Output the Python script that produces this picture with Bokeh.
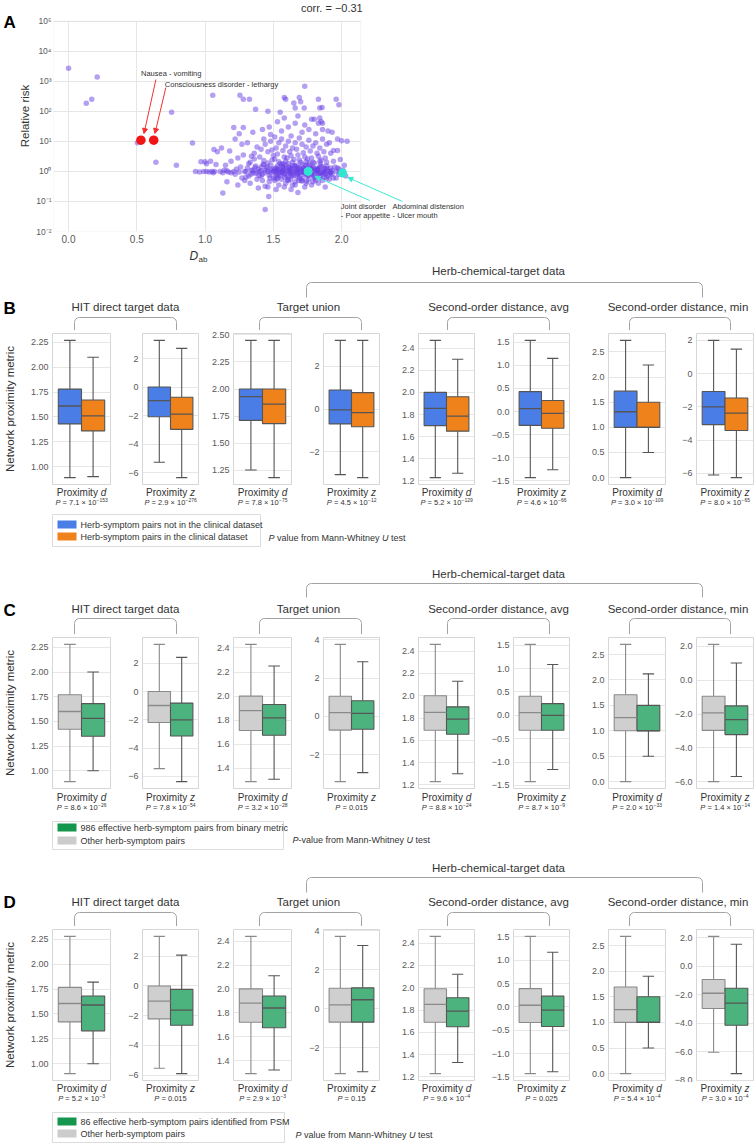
import math
from bokeh.plotting import figure
from bokeh.models import Range1d, FixedTicker, Label, Arrow, NormalHead, ColumnDataSource, BoxAnnotation
from bokeh.layouts import column, row
from bokeh.transform import dodge
from bokeh.embed import file_html
from bokeh.resources import INLINE
from bokeh.core.properties import value

FONT = "Liberation Sans"
TXT = "#333333"
TCK = "#595959"
PAGE_W = 756

# ===================== Panel A data =====================
corr_text = "corr. = −0.31"
A_xtick_labels = ["0.0", "0.5", "1.0", "1.5", "2.0"]
A_ytick_exps = [-2, -1, 0, 1, 2, 3, 4, 5]
A_ytick_labels = ["10⁻²", "10⁻¹", "10⁰", "10¹", "10²", "10³", "10⁴", "10⁵"]

A_D = [
    # isolated pairs
    0.0, 0.13, 0.17, 0.21, 0.505, 0.64, 0.755, 0.79, 0.908, 1.056, 1.0, 1.01, 1.065, 1.13, 1.21, 1.28,
    1.255, 1.28, 1.325, 1.37, 1.46, 1.466, 1.44, 1.55, 1.58, 1.59, 1.65, 1.66, 1.69, 1.70, 1.73, 1.726,
    1.83, 1.96, 1.98, 2.0, 2.04, 1.84, 1.85, 1.857, 1.80, 1.86, 1.90,
    # 0.9 - 1.1
    0.93, 0.96, 0.99, 0.97, 1.01, 1.03, 1.05, 1.07, 1.08, 1.04, 1.09, 1.06,
    # 1.1 - 1.2
    1.11, 1.13, 1.14, 1.16, 1.17, 1.18, 1.15, 1.19, 1.12, 1.16, 1.19,
    # 1.2 - 1.3
    1.21, 1.22, 1.23, 1.24, 1.25, 1.26, 1.27, 1.28, 1.29, 1.22, 1.27, 1.24, 1.29, 1.25,
    # 1.3 - 1.4
    1.30, 1.31, 1.32, 1.33, 1.34, 1.35, 1.36, 1.37, 1.38, 1.39, 1.31, 1.33, 1.35, 1.36, 1.38, 1.39, 1.32, 1.37, 1.34, 1.30,
    # 1.4 - 1.45
    1.40, 1.41, 1.42, 1.43, 1.44, 1.41, 1.42, 1.43, 1.44, 1.40, 1.41, 1.43, 1.44, 1.42, 1.45,
    # 1.45 - 1.5
    1.46, 1.47, 1.48, 1.49, 1.46, 1.47, 1.48, 1.49, 1.46, 1.48, 1.47, 1.49, 1.46, 1.50, 1.50, 1.48,
    # 1.5 - 1.55
    1.51, 1.52, 1.53, 1.54, 1.51, 1.52, 1.53, 1.54, 1.51, 1.52, 1.53, 1.54, 1.55, 1.51, 1.53, 1.52, 1.54, 1.55, 1.51, 1.53,
    # 1.55 - 1.6
    1.56, 1.57, 1.58, 1.59, 1.56, 1.57, 1.58, 1.59, 1.56, 1.57, 1.58, 1.59, 1.60, 1.56, 1.58, 1.59, 1.57, 1.60, 1.58, 1.56,
    # 1.6 - 1.65
    1.61, 1.62, 1.63, 1.64, 1.61, 1.62, 1.63, 1.64, 1.61, 1.62, 1.63, 1.64, 1.65, 1.61, 1.63, 1.64, 1.62, 1.65, 1.63, 1.61,
    # 1.65 - 1.7
    1.66, 1.67, 1.68, 1.69, 1.66, 1.67, 1.68, 1.69, 1.66, 1.67, 1.68, 1.69, 1.70, 1.66, 1.68, 1.69, 1.67, 1.70, 1.68, 1.66,
    # 1.7 - 1.75
    1.71, 1.72, 1.73, 1.74, 1.71, 1.72, 1.73, 1.74, 1.71, 1.72, 1.73, 1.74, 1.75, 1.71, 1.73, 1.74, 1.72, 1.75, 1.73, 1.71,
    # 1.75 - 1.8
    1.76, 1.77, 1.78, 1.79, 1.76, 1.77, 1.78, 1.79, 1.76, 1.77, 1.78, 1.79, 1.80, 1.76, 1.78, 1.79, 1.77, 1.80, 1.78, 1.76,
    # 1.8 - 1.85
    1.81, 1.82, 1.83, 1.84, 1.81, 1.82, 1.83, 1.84, 1.81, 1.82, 1.83, 1.84, 1.85, 1.81, 1.83, 1.84, 1.82, 1.85, 1.83, 1.84,
    # 1.85 - 1.9
    1.86, 1.87, 1.88, 1.89, 1.86, 1.87, 1.88, 1.89, 1.86, 1.87, 1.88, 1.89, 1.90, 1.86, 1.88, 1.89,
    # 1.9 - 1.95
    1.91, 1.92, 1.93, 1.94, 1.91, 1.92, 1.93, 1.94, 1.91, 1.92, 1.93, 1.95, 1.94,
    # 1.95 - 2.05
    1.96, 1.97, 1.98, 1.99, 1.96, 1.97, 1.98, 1.99, 2.01, 2.02, 1.97, 2.03,
    # dense band near RR = 1
    1.50, 1.52, 1.55, 1.57, 1.60, 1.62, 1.65, 1.67, 1.70, 1.72, 1.75, 1.77, 1.80, 1.82, 1.85, 1.87,
    1.53, 1.58, 1.63, 1.68, 1.73, 1.78, 1.83, 1.88, 1.48, 1.44, 1.41, 1.38, 1.35, 1.54, 1.59, 1.64,
    1.69, 1.74, 1.79, 1.84, 1.89, 1.92, 1.61, 1.66,
    1.515, 1.545, 1.565, 1.585, 1.615, 1.635, 1.655, 1.675, 1.695, 1.715, 1.735, 1.755, 1.775, 1.795,
    1.815, 1.835, 1.855, 1.875, 1.895, 1.915, 1.455, 1.475, 1.425, 1.395, 1.365, 1.335, 1.525, 1.605,
    1.685, 1.765, 1.845, 1.705, 1.625, 1.745, 1.575, 1.805,
]
A_RR = [
    2700, 185, 250, 1380, 9, 2.0, 93, 1.6, 8.8, 340, 2.1, 1.8, 5.4, 0.19, 29, 29,
    340, 250, 250, 117, 100, 0.145, 0.054, 94, 290, 250, 190, 130, 290, 210, 690, 130,
    250, 250, 165, 10.5, 10, 60, 45, 134, 55, 40, 22,
    1.0, 0.95, 1.0, 2.1, 1.0, 0.95, 1.0, 1.0, 1.7, 2.2, 4.5, 0.9,
    1.0, 0.9, 1.1, 1.05, 0.95, 4.8, 1.6, 2.2, 6.0, 0.45, 0.9,
    1.0, 0.8, 1.2, 2.8, 0.95, 1.4, 0.6, 3.5, 1.0, 12, 8, 0.35, 0.5, 18,
    1.0, 1.3, 0.7, 2.0, 1.1, 0.9, 4.0, 1.5, 0.55, 1.2, 9, 0.4, 20, 2.6, 6.5, 0.28, 1.8, 0.85, 3.2, 0.65,
    1.0, 1.4, 0.8, 2.3, 1.1, 5.5, 0.5, 12, 0.32, 3.0, 0.7, 1.7, 8, 25, 1.3,
    1.0, 0.75, 1.6, 2.4, 4.5, 0.45, 10, 1.2, 0.3, 0.9, 30, 5.2, 1.9, 0.6, 3.4, 17,
    1.0, 1.3, 0.8, 2.1, 0.5, 6, 1.5, 0.35, 14, 0.9, 3.8, 1.1, 0.7, 2.6, 45, 0.25, 9, 1.8, 1.2, 0.6,
    1.0, 1.4, 0.8, 2.2, 0.55, 5, 1.2, 0.4, 12, 0.9, 3.0, 1.6, 0.7, 22, 0.3, 7, 1.1, 2.8, 60, 1.7,
    1.0, 1.3, 0.85, 2.0, 0.5, 4.5, 1.15, 0.35, 10, 0.95, 3.3, 1.5, 0.7, 30, 0.25, 6, 1.1, 2.5, 15, 1.8,
    1.0, 1.2, 0.8, 2.4, 0.45, 5.5, 1.3, 0.6, 9, 0.9, 3.5, 1.1, 0.75, 40, 0.2, 13, 1.6, 2.0, 70, 0.35,
    1.0, 1.3, 0.85, 2.1, 0.5, 4.2, 1.1, 0.4, 8, 0.95, 3.0, 1.5, 0.7, 20, 0.3, 6.5, 1.2, 2.6, 35, 1.7,
    1.0, 1.2, 0.8, 2.0, 0.55, 4.8, 1.15, 0.45, 11, 0.9, 2.8, 1.4, 0.7, 25, 0.35, 7, 1.1, 1.9, 55, 1.6,
    1.0, 1.25, 0.8, 2.2, 0.5, 4.0, 1.1, 0.6, 9, 0.95, 3.2, 1.4, 0.75, 18, 0.4, 6, 1.15, 2.4, 40, 130,
    1.0, 1.3, 0.8, 2.0, 0.5, 4.5, 1.2, 0.6, 12, 0.9, 2.8, 1.5, 0.7, 25, 0.3, 8,
    1.0, 1.3, 0.8, 2.2, 0.55, 4.0, 1.1, 0.6, 9, 0.9, 20, 1.4, 5,
    1.0, 1.3, 0.8, 2.5, 0.6, 5, 1.2, 0.9, 1.1, 1.6, 12, 0.7,
    1.0, 1.05, 0.95, 1.0, 1.05, 0.9, 1.0, 1.08, 0.92, 1.0, 1.05, 0.95, 1.0, 1.1, 0.9, 1.0,
    1.2, 0.85, 1.25, 0.88, 1.2, 0.82, 1.22, 0.87, 1.1, 0.9, 1.05, 0.95, 1.1, 0.75, 1.3, 0.78,
    1.32, 0.8, 1.28, 0.83, 1.1, 0.95, 0.65, 1.45,
    0.7, 1.15, 1.5, 0.62, 1.4, 0.72, 1.55, 0.68, 1.18, 0.58, 1.6, 0.74, 1.35, 0.66,
    1.12, 0.7, 1.48, 0.64, 1.25, 0.8, 1.4, 0.6, 1.7, 0.72, 1.35, 0.8, 0.56, 0.52,
    0.5, 1.9, 1.75, 0.48, 0.54, 0.47, 1.85, 0.58,
]
assert len(A_D) == len(A_RR), (len(A_D), len(A_RR))

A_red_names = ["Nausea - vomiting", "Consciousness disorder - lethargy"]
A_red_D = [0.53, 0.624]
A_red_RR = [11.0, 11.0]
A_cyan_names = [["Joint disorder", "- Poor appetite"], ["Abdominal distension", "- Ulcer mouth"]]
A_cyan_D = [1.755, 2.007]
A_cyan_RR = [1.0, 0.88]

# ===================== Panels B-D data =====================
group_title = "Herb-chemical-target data"
subtitles = ["HIT direct target data", "Target union", "Second-order distance, avg", "Second-order distance, min"]
metric_letters = ["d", "z", "d", "z", "d", "z", "d", "z"]

# each box: [low whisker, Q1, median, Q3, high whisker]
B_not_clinical = [
    [0.89, 1.43, 1.61, 1.78, 2.27], [-5.27, -2.07, -0.94, 0.02, 3.29],
    [1.25, 1.71, 1.93, 2.00, 2.45], [-3.08, -0.70, -0.04, 0.89, 3.22],
    [1.23, 1.70, 1.855, 2.00, 2.47], [-1.43, -0.30, 0.065, 0.43, 1.54],
    [0.0, 1.0, 1.31, 1.72, 2.73], [-6.1, -3.07, -2.0, -1.08, 2.0],
]
B_in_clinical = [
    [0.90, 1.36, 1.51, 1.67, 2.10], [-6.35, -2.96, -1.89, -0.71, 2.73],
    [1.18, 1.68, 1.86, 2.00, 2.45], [-3.22, -0.83, -0.17, 0.77, 3.22],
    [1.27, 1.65, 1.785, 1.96, 2.30], [-1.26, -0.36, -0.04, 0.24, 1.15],
    [0.5, 1.0, 1.0, 1.5, 2.24], [-6.26, -3.42, -2.38, -1.47, 1.47],
]
C_other = [
    [0.89, 1.42, 1.60, 1.77, 2.28], [-5.46, -2.19, -0.99, 0.0, 3.34],
    [1.29, 1.715, 1.88, 2.0, 2.43], [-3.42, -0.72, 0.19, 1.05, 3.77],
    [1.23, 1.69, 1.85, 2.0, 2.46], [-1.42, -0.32, 0.057, 0.41, 1.52],
    [0.0, 1.0, 1.26, 1.71, 2.70], [-6.0, -2.97, -1.93, -0.95, 2.12],
]
C_binary = [
    [1.00, 1.35, 1.53, 1.68, 2.00], [-6.38, -3.15, -2.0, -0.82, 2.42],
    [1.31, 1.675, 1.82, 1.93, 2.25], [-2.95, -0.68, 0.16, 0.82, 2.86],
    [1.30, 1.655, 1.79, 1.90, 2.13], [-1.16, -0.32, 0.0, 0.25, 1.09],
    [0.5, 1.0, 1.0, 1.5, 2.12], [-5.7, -3.22, -2.33, -1.52, 1.02],
]
D_other = [
    [0.90, 1.42, 1.605, 1.767, 2.28], [-5.53, -2.21, -1.02, 0.0, 3.33],
    [1.29, 1.72, 1.88, 2.0, 2.44], [-3.32, -0.68, 0.21, 1.06, 3.72],
    [1.23, 1.69, 1.85, 1.99, 2.46], [-1.43, -0.335, 0.035, 0.39, 1.51],
    [0.0, 1.0, 1.25, 1.69, 2.68], [-6.05, -2.97, -1.9, -0.93, 2.1],
]
D_psm = [
    [1.00, 1.33, 1.59, 1.68, 1.82], [-5.89, -2.64, -1.63, -0.23, 2.07],
    [1.32, 1.675, 1.84, 1.94, 2.11], [-3.22, -0.68, 0.47, 1.08, 3.25],
    [1.33, 1.65, 1.79, 1.91, 2.12], [-1.39, -0.42, -0.07, 0.23, 1.17],
    [0.5, 1.0, 1.0, 1.5, 1.90], [-7.55, -4.15, -2.6, -1.55, 1.55],
]

B_p_mant = ["7.1", "2.9", "7.8", "4.5", "5.2", "4.6", "3.0", "8.0"]
B_p_exp = ["−153", "−276", "−75", "−12", "−129", "−66", "−109", "−65"]
C_p_mant = ["8.6", "7.8", "3.2", "0.015", "8.8", "8.7", "2.0", "1.4"]
C_p_exp = ["−26", "−54", "−28", "", "−24", "−9", "−33", "−14"]
D_p_mant = ["5.2", "0.015", "2.9", "0.15", "9.6", "0.025", "5.4", "3.0"]
D_p_exp = ["−3", "", "−3", "", "−4", "", "−4", "−4"]

T_d225 = ["1.00", "1.25", "1.50", "1.75", "2.00", "2.25"]
T_z6 = ["−6", "−4", "−2", "0", "2"]
T_d250 = ["1.25", "1.50", "1.75", "2.00", "2.25", "2.50"]
T_z2 = ["−2", "0", "2"]
T_z4 = ["−2", "0", "2", "4"]
T_d12 = ["1.2", "1.4", "1.6", "1.8", "2.0", "2.2", "2.4"]
T_d14 = ["1.4", "1.6", "1.8", "2.0", "2.2", "2.4"]
T_z15 = ["−1.5", "−1.0", "−0.5", "0.0", "0.5", "1.0", "1.5"]
T_d0 = ["0.0", "0.5", "1.0", "1.5", "2.0", "2.5"]
T_z6f = ["−6.0", "−4.0", "−2.0", "0.0", "2.0"]
T_z8f = ["−8.0", "−6.0", "−4.0", "−2.0", "0.0", "2.0"]
B_ticks = [T_d225, T_z6, T_d250, T_z2, T_d12, T_z15, T_d0, T_z6]
C_ticks = [T_d225, T_z6, T_d14, T_z4, T_d12, T_z15, T_d0, T_z6f]
D_ticks = [T_d225, T_z6, T_d14, T_z4, T_d12, T_z15, T_d0, T_z8f]

B_legend = ["Herb-symptom pairs not in the clinical dataset", "Herb-symptom pairs in the clinical dataset"]
C_legend = ["986 effective herb-symptom pairs from binary metric", "Other herb-symptom pairs"]
D_legend = ["86 effective herb-symptom pairs identified from PSM", "Other herb-symptom pairs"]

# ===================== styling / layout constants (page pixels) =====================
BLUE, ORANGE = "#4b7de6", "#f0821c"
GRAY, GREEN = "#cfcfcf", "#4cb37f"
LEG_GREEN, LEG_GRAY = "#15964d", "#cccccc"
EDGE_DARK, EDGE_LIGHT = "#555555", "#8a8a8a"
BRACKET = "#a3a3a3"

FRAMES = [(52, 58), (142, 56), (233, 58), (323, 56), (418, 56), (513, 56), (608, 57), (696, 57)]
SUB_CENTERS = [125, 308, 498, 677.5]
SMALL_BR = [(74, 176), (259, 361), (447, 549), (629, 730)]
BIG_BR = (306, 702)
HEAD_X = 498

CW = {" ": .278, "-": .333, ".": .278, "=": .584, "×": .584, "−": .584, ",": .278}
for ch in "0123456789":
    CW[ch] = .556
CW.update(dict(a=.556, b=.556, c=.5, d=.556, e=.556, f=.278, g=.556, h=.556, i=.222, j=.222, k=.5, l=.222,
               m=.833, n=.556, o=.556, p=.556, q=.556, r=.333, s=.5, t=.278, u=.556, v=.5, w=.722, x=.5,
               y=.5, z=.5, A=.667, B=.667, C=.722, D=.722, E=.667, H=.722, I=.278, M=.833, O=.778,
               P=.667, S=.667, U=.722, W=.944))


def tw(s, size):
    return sum(CW.get(ch, .556) for ch in s) * size


class TextBag:
    def __init__(self):
        self.d = {k: [] for k in ["x", "y", "text", "size", "style", "color", "align"]}

    def add(self, x, y, t, size=10.0, style="normal", color=TXT, align="left"):
        for k, v in zip(["x", "y", "text", "size", "style", "color", "align"],
                        [x, y, t, "%.2fpx" % size, style, color, align]):
            self.d[k].append(v)

    def draw(self, p):
        p.text(x="x", y="y", text="text", text_font_size="size", text_font_style="style",
               text_color="color", text_align="align", text_baseline="middle",
               text_font=value(FONT), source=ColumnDataSource(self.d))


def canvas(h, w=PAGE_W):
    c = figure(width=w, height=h, x_range=Range1d(0, w), y_range=Range1d(h, 0),
               x_axis_location=None, y_axis_location=None, min_border=0,
               output_backend="svg", toolbar_location=None)
    c.xgrid.visible = False
    c.ygrid.visible = False
    c.outline_line_color = None
    return c


def bracket(x0, x1, yt, yb, r=5):
    xs, ys = [x0, x0], [yb, yt + r]
    for k in range(1, 7):
        a = math.pi + k * (math.pi / 2) / 6
        xs.append(x0 + r + r * math.cos(a)); ys.append(yt + r + r * math.sin(a))
    for k in range(0, 7):
        a = 1.5 * math.pi + k * (math.pi / 2) / 6
        xs.append(x1 - r + r * math.cos(a)); ys.append(yt + r + r * math.sin(a))
    xs.append(x1); ys.append(yb)
    return xs, ys


def header(h, letter, head_y, big_top, big_bot, sub_y, letter_y, sb_top, sb_bot, extra=None):
    c = canvas(h)
    xs, ys = [], []
    for (a, b) in SMALL_BR:
        bx, by = bracket(a, b, sb_top, sb_bot)
        xs.append(bx); ys.append(by)
    bx, by = bracket(BIG_BR[0], BIG_BR[1], big_top, big_bot)
    xs.append(bx); ys.append(by)
    c.multi_line(xs, ys, line_color=BRACKET, line_width=1)
    bag = TextBag()
    bag.add(HEAD_X, head_y, group_title, 11.5, align="center")
    for cx, t in zip(SUB_CENTERS, subtitles):
        bag.add(cx, sub_y, t, 11.5, align="center")
    bag.add(3, letter_y, letter, 17, "bold", "#000000")
    if extra:
        for item in extra:
            bag.add(*item)
    bag.draw(c)
    return c


def box_row(left_stats, right_stats, ticks, fills, edges, first_label="Network proximity metric"):
    figs = []
    prev = 0
    for i, (fl, fw) in enumerate(FRAMES):
        lb = fl - prev
        boxes = [left_stats[i], right_stats[i]]
        vals = [v for bx in boxes for v in bx]
        lo, hi = min(vals), max(vals)
        pad = 0.05 * (hi - lo)
        p = figure(width=lb + fw + 1, height=156, x_range=Range1d(-0.5, 0.5),
                   y_range=Range1d(lo - pad, hi + pad), x_axis_location=None,
                   min_border_left=lb, min_border_right=1, min_border_top=3, min_border_bottom=2,
                   output_backend="svg", toolbar_location=None)
        tv = [float(s.replace("−", "-")) for s in ticks[i]]
        tk = FixedTicker(ticks=tv)
        ax = p.yaxis[0]
        ax.ticker = tk
        ax.major_label_overrides = dict(zip(tv, ticks[i]))
        ax.major_label_text_font = FONT
        ax.major_label_text_font_size = "9px"
        ax.major_label_text_color = TCK
        ax.major_label_standoff = 4
        ax.major_tick_line_color = None
        ax.minor_tick_line_color = None
        ax.major_tick_out = 0
        ax.minor_tick_out = 0
        ax.axis_line_color = None
        if i == 0:
            ax.axis_label = first_label
            ax.axis_label_text_font = FONT
            ax.axis_label_text_font_size = "11.5px"
            ax.axis_label_text_font_style = "normal"
            ax.axis_label_text_color = TXT
            ax.axis_label_standoff = 12
        p.xgrid.visible = False
        p.ygrid.ticker = tk
        p.ygrid.grid_line_color = "#e6e6e6"
        p.outline_line_color = "#d6d6d6"
        src = ColumnDataSource(dict(
            x=[-0.2, 0.2], low=[b[0] for b in boxes], q1=[b[1] for b in boxes], med=[b[2] for b in boxes],
            q3=[b[3] for b in boxes], high=[b[4] for b in boxes], fill=fills, edge=edges))
        p.segment(x0="x", y0="low", x1="x", y1="q1", line_color="edge", line_width=1.1, source=src)
        p.segment(x0="x", y0="q3", x1="x", y1="high", line_color="edge", line_width=1.1, source=src)
        p.vbar(x="x", width=0.4, bottom="q1", top="q3", fill_color="fill", line_color="edge",
               line_width=1.1, source=src)
        p.segment(x0=dodge("x", -0.1), y0="low", x1=dodge("x", 0.1), y1="low", line_color="edge",
                  line_width=1.1, source=src)
        p.segment(x0=dodge("x", -0.1), y0="high", x1=dodge("x", 0.1), y1="high", line_color="edge",
                  line_width=1.1, source=src)
        p.segment(x0=dodge("x", -0.2), y0="med", x1=dodge("x", 0.2), y1="med", line_color="edge",
                  line_width=1.3, source=src)
        figs.append(column(p))
        prev = fl + fw + 1
    return row(*figs)


def footer(h, pm, pe, prox_y, p_y, box_x, box_y, rows_y, leg_labels, leg_colors, note_parts, note_x, note_y):
    c = canvas(h)
    c.quad(left=[box_x[0]], right=[box_x[1]], top=[box_y[0]], bottom=[box_y[1]],
           fill_color="white", line_color="#dcdcdc", line_width=1)
    c.quad(left=[57] * 2, right=[76] * 2, top=[y - 4 for y in rows_y], bottom=[y + 4 for y in rows_y],
           fill_color=leg_colors, line_color=None)
    bag = TextBag()
    for i, (fl, fw) in enumerate(FRAMES):
        cx = fl + fw / 2.0
        w1 = tw("Proximity ", 10)
        w2 = tw(metric_letters[i], 10)
        x0 = cx - (w1 + w2) / 2
        bag.add(x0, prox_y, "Proximity", 10)
        bag.add(x0 + w1, prox_y, metric_letters[i], 10, "italic")
        fs, ss = 7.5, 5.0
        rest = "= " + pm[i] + (" × 10" if pe[i] else "")
        wP = tw("P ", fs)
        wr = tw(rest, fs)
        we = tw(pe[i], ss) if pe[i] else 0
        x0 = cx - (wP + wr + we) / 2
        bag.add(x0, p_y, "P", fs, "italic")
        bag.add(x0 + wP, p_y, rest, fs)
        if pe[i]:
            bag.add(x0 + wP + wr + 0.3, p_y - 2.5, pe[i], ss)
    for y, t in zip(rows_y, leg_labels):
        bag.add(80, y, t, 9)
    x = note_x
    for t, style, gap in note_parts:
        x += tw(" ", 9) if gap else 0
        bag.add(x, note_y, t, 9, style)
        x += tw(t, 9)
    bag.draw(c)
    return c


# ===================== Panel A =====================
A_L, A_R, A_T, A_B = 49, 358, 20.7, 231      # page px of the plotted box
A_H = 248
A_LETTER_W = 16
XR = (-0.11, 2.14)
DEC = (A_B - A_T) / 7.0
x_end = XR[0] + (PAGE_W - A_L) / (A_R - A_L) * (XR[1] - XR[0])
y_top = 10 ** (5 + A_T / DEC)
pa = figure(width=PAGE_W - A_LETTER_W, height=A_H, x_range=Range1d(XR[0], x_end),
            y_range=Range1d(1e-2, y_top), y_axis_type="log",
            min_border_left=A_L - A_LETTER_W, min_border_right=0, min_border_top=0,
            min_border_bottom=A_H - A_B, output_backend="svg", toolbar_location=None)


def apx(px):
    return XR[0] + (px - A_L) / (A_R - A_L) * (XR[1] - XR[0])


def apy(py):
    return 10 ** (5 - (py - A_T) / DEC)


xt = [float(s) for s in A_xtick_labels]
pa.xaxis.ticker = FixedTicker(ticks=xt)
pa.xaxis.major_label_overrides = dict(zip(xt, A_xtick_labels))
yt = [10.0 ** e for e in A_ytick_exps]
pa.yaxis.ticker = FixedTicker(ticks=yt)
pa.yaxis.major_label_overrides = dict(zip(yt, A_ytick_labels))
for axis in (pa.xaxis[0], pa.yaxis[0]):
    axis.major_label_text_font = FONT
    axis.major_label_text_color = TCK
    axis.major_tick_line_color = None
    axis.minor_tick_line_color = None
    axis.major_tick_out = 0
    axis.minor_tick_out = 0
    axis.major_tick_in = 0
    axis.minor_tick_in = 0
    axis.axis_line_color = None
    axis.major_label_standoff = 3
pa.xaxis.major_label_text_font_size = "10px"
pa.yaxis.major_label_text_font_size = "8.5px"
pa.yaxis.major_label_standoff = 2
pa.yaxis.bounds = (1e-2, 1e5)
pa.yaxis.axis_label = "Relative risk"
pa.yaxis.axis_label_text_font = FONT
pa.yaxis.axis_label_text_font_size = "11.5px"
pa.yaxis.axis_label_text_font_style = "normal"
pa.yaxis.axis_label_text_color = TXT
pa.yaxis.axis_label_standoff = 2
pa.grid.grid_line_color = "#e6e6e6"
pa.xgrid.cross_bounds = (1e-2, 1e5)
pa.ygrid.cross_bounds = XR
pa.outline_line_color = None
pa.add_layout(BoxAnnotation(left=XR[0], right=XR[1], bottom=1e-2, top=1e5, fill_alpha=0,
                            line_color="#d6d6d6", line_width=1))

pa.scatter(A_D, A_RR, size=5.5, fill_color="#6a3fe6", fill_alpha=0.5, line_color=None)
pa.scatter(A_red_D, A_red_RR, size=9.5, fill_color="#f01414", line_color=None)
pa.scatter(A_cyan_D, A_cyan_RR, size=9, fill_color="#2fe6cf", line_color=None)

RED, CYAN = "#f53030", "#3fe8d3"
for (x0, y0, x1, y1) in [(152, 79, 140, 133), (162, 87, 151, 133)]:
    pa.add_layout(Arrow(end=NormalHead(size=5, fill_color=RED, line_color=RED),
                        x_start=apx(x0), y_start=apy(y0), x_end=apx(x1), y_end=apy(y1),
                        line_color=RED, line_width=1))
for (x0, y0, x1, y1) in [(367, 200, 312, 176), (400, 201, 345, 177)]:
    pa.add_layout(Arrow(end=NormalHead(size=5, fill_color=CYAN, line_color=CYAN),
                        x_start=apx(x0), y_start=apy(y0), x_end=apx(x1), y_end=apy(y1),
                        line_color=CYAN, line_width=1))


def alabel(px, py, t, size, style="normal", color=TXT, align="left"):
    pa.add_layout(Label(x=apx(px), y=apy(py), text=t, text_font=FONT, text_font_size="%.1fpx" % size,
                        text_font_style=style, text_color=color, text_align=align, text_baseline="middle"))


alabel(137, 73, A_red_names[0], 7.5)
alabel(161, 84, A_red_names[1], 7.5)
alabel(338, 206, A_cyan_names[0][0], 7.5)
alabel(338, 215, A_cyan_names[0][1], 7.5)
alabel(390, 206, A_cyan_names[1][0], 7.5)
alabel(390, 215, A_cyan_names[1][1], 7.5)
alabel(360, 7, corr_text, 11, align="right")

cA = canvas(A_H, A_LETTER_W)
bagA = TextBag()
bagA.add(3, 22, "A", 17, "bold", "#000000")
bagA.draw(cA)

# ===================== Panels B, C, D =====================
hB = header(82, "B", 22, 34, 49, 58, 60, 69, 82,
            extra=[(189, 7, "D", 12, "italic"), (198, 11, "ab", 8)])
rB = box_row(B_not_clinical, B_in_clinical, B_ticks, [BLUE, ORANGE], [EDGE_DARK, EDGE_DARK])
fB = footer(62, B_p_mant, B_p_exp, 6, 16, (52, 260), (28, 60), [38, 50], B_legend, [BLUE, ORANGE],
            [("P", "italic", False), ("value from Mann-Whitney", "normal", True), ("U", "italic", True),
             ("test", "normal", True)], 268, 51)

hC = header(86, "C", 25, 35, 49, 60, 62, 70, 86)
rC = box_row(C_other, C_binary, C_ticks, [GRAY, GREEN], [EDGE_LIGHT, EDGE_DARK])
fC = footer(62, C_p_mant, C_p_exp, 7, 17, (52, 283), (31, 59), [37, 50], C_legend, [LEG_GREEN, LEG_GRAY],
            [("P", "italic", False), ("-value from Mann-Whitney", "normal", False), ("U", "italic", True),
             ("test", "normal", True)], 292, 49)

hD = header(74, "D", 15, 25, 40, 49, 50, 60, 74)
rD = box_row(D_other, D_psm, D_ticks, [GRAY, GREEN], [EDGE_LIGHT, EDGE_DARK])
fD = footer(61, D_p_mant, D_p_exp, 6, 16, (52, 284), (30, 60), [39, 51], D_legend, [LEG_GREEN, LEG_GRAY],
            [("P", "italic", False), ("value from Mann-Whitney", "normal", True), ("U", "italic", True),
             ("test", "normal", True)], 295, 52)

layout = column(
    row(column(cA), column(pa)),
    row(hB), rB, row(fB),
    row(hC), rC, row(fC),
    row(hD), rD, row(fD),
)
open("out.html", "w").write(file_html(layout, INLINE))
